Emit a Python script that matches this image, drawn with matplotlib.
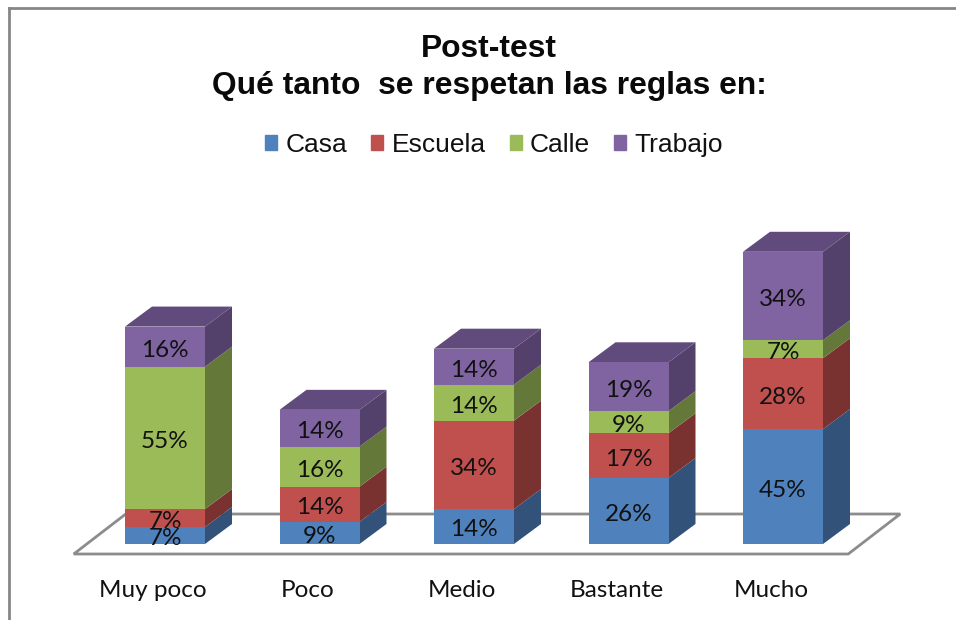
import matplotlib
matplotlib.use("Agg")
import matplotlib.pyplot as plt
import numpy as np
from matplotlib.patches import Patch, Polygon
from matplotlib.transforms import ScaledTranslation

categories = ["Muy poco", "Poco", "Medio", "Bastante", "Mucho"]
series_names = ["Casa", "Escuela", "Calle", "Trabajo"]
# heights, labels round them to whole percents
casa = [6.6, 8.6, 13.6, 25.7, 44.7]
escuela = [7.0, 13.7, 34.4, 17.4, 27.6]
calle = [55.4, 15.6, 14.0, 8.6, 7.0]
trabajo = [15.6, 14.3, 14.0, 19.0, 34.4]

front_colors = ["#4F81BD", "#C0504D", "#9BBB59", "#8064A2"]
side_colors = ["#32527A", "#7A3230", "#64783A", "#53406B"]
top_colors = ["#3A5F8C", "#8C3A38", "#748A44", "#614B7C"]

W, H = 956, 620
fig = plt.figure(figsize=(W / 100, H / 100), dpi=100)

# frame of the chart area, only left and top show in the crop
fig.add_artist(plt.Line2D([9 / W, 9 / W], [0, 1 - 8 / H], color="#868686", lw=2))
fig.add_artist(plt.Line2D([9 / W, 1], [1 - 8 / H, 1 - 8 / H], color="#868686", lw=2))

# axes placed so one category is 154.5 px and 1% is 2.57 px
left, right, bottom, top = 87.75, 860.25, 544, 200
ax = fig.add_axes([left / W, 1 - bottom / H, (right - left) / W, (bottom - top) / H])
ax.set_xlim(-0.5, 4.5)
ax.set_ylim(0, (bottom - top) / 2.57)
ax.patch.set_alpha(0)
for s in ax.spines.values():
    s.set_visible(False)

bar_w = 80 / 154.5
dx = 27 / 154.5
dy = 20 / 2.57

# floor
floor_front = -10 / 2.57
floor_back = 30 / 2.57
fx0 = -0.5 - 14 / 154.5
fx1 = 4.5 - 12 / 154.5
ax.add_patch(Polygon([(fx0, floor_front), (fx1, floor_front),
                      (fx1 + 52 / 154.5, floor_back), (fx0 + 52 / 154.5, floor_back)],
                     closed=True, fc="white", ec="#8C8C8C", lw=2, clip_on=False, zorder=1))

x = np.arange(len(categories))
base = np.zeros(len(categories))
all_series = [casa, escuela, calle, trabajo]
for i, vals in enumerate(all_series):
    vals = np.array(vals, dtype=float)
    ax.bar(x, vals, bar_w, bottom=base, color=front_colors[i], zorder=3)
    for j in range(len(x)):
        xr = x[j] + bar_w / 2
        b = base[j]
        t = b + vals[j]
        ax.add_patch(Polygon([(xr, b), (xr + dx, b + dy), (xr + dx, t + dy), (xr, t)],
                             closed=True, fc=side_colors[i], ec="none", zorder=2.5, clip_on=False))
        if i == len(all_series) - 1:
            xl = x[j] - bar_w / 2
            ax.add_patch(Polygon([(xl, t), (xr, t), (xr + dx, t + dy), (xl + dx, t + dy)],
                                 closed=True, fc=top_colors[i], ec="none", zorder=2.5, clip_on=False))
        ax.annotate("%.0f%%" % vals[j], (x[j], b + vals[j] / 2), xytext=(0, -2.5),
                    textcoords="offset points", ha="center", va="center",
                    fontsize=17.5, family="Lato", color="#111111", zorder=5)
    base = base + vals

ax.set_xticks(x)
ax.set_xticklabels(categories, family="Lato", fontsize=17.5, color="#111111")
ax.tick_params(axis="x", length=0, pad=26)
ax.set_yticks([])
shift = ScaledTranslation(-12 / 100, 0, fig.dpi_scale_trans)
for label in ax.get_xticklabels():
    label.set_transform(label.get_transform() + shift)

fig.text(489 / W, 1 - 49 / H, "Post-test", ha="center", va="center",
         family="Liberation Sans", weight="bold", fontsize=22.9, color="#0A0A0A")
fig.text(489 / W, 1 - 86 / H, "Qué tanto  se respetan las reglas en:", ha="center", va="center",
         family="Liberation Sans", weight="bold", fontsize=22.9, color="#0A0A0A")

handles = [Patch(color=c) for c in front_colors]
fig.legend(handles, series_names, loc="center", bbox_to_anchor=(494 / W, 1 - 145 / H), ncol=4,
           frameon=False, prop={"family": "Liberation Sans", "size": 19},
           handlelength=0.46, handleheight=0.46, handletextpad=0.32, columnspacing=0.9,
           labelcolor="#111111")

fig.savefig("out.png", dpi=100)
